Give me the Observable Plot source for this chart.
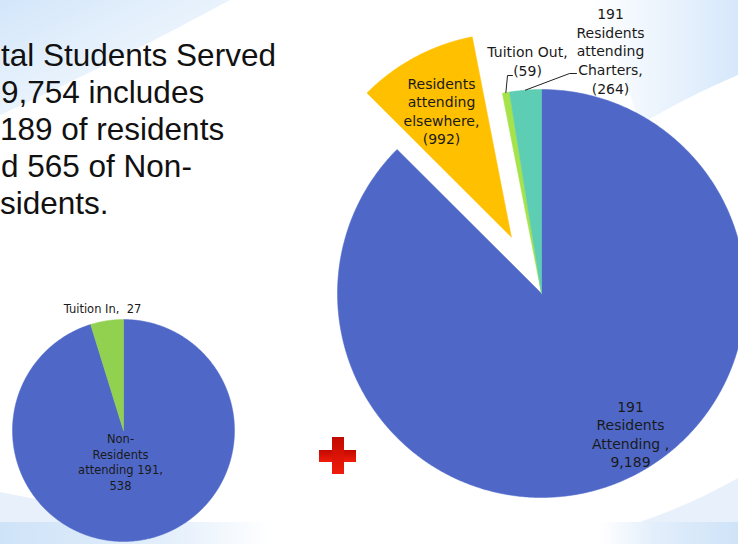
<!DOCTYPE html>
<html>
<head>
<meta charset="utf-8">
<script src="https://cdn.jsdelivr.net/npm/d3@7"></script>
<script src="https://cdn.jsdelivr.net/npm/@observablehq/plot@0.6"></script>
<style>
  html, body { margin: 0; padding: 0; background: #fff; }
  #wrap { position: relative; width: 738px; height: 544px; overflow: hidden; background: #fff; }
  #bg, #chart { position: absolute; left: 0; top: 0; }
  .line { position: absolute; font-family: "Liberation Sans", Arial, sans-serif; font-size: 31.5px; color: #111; white-space: nowrap; line-height: 37px; }
  .plus-h, .plus-v { position: absolute; background: linear-gradient(#c20a00, #f01c0c); }
</style>
</head>
<body>
<div id="wrap">
  <svg id="bg" width="738" height="544" xmlns="http://www.w3.org/2000/svg">
    <defs>
      <linearGradient id="gTL" x1="0" y1="0" x2="1" y2="1">
        <stop offset="0" stop-color="#d3e6fa"/>
        <stop offset="1" stop-color="#ffffff"/>
      </linearGradient>
      <linearGradient id="gTR" x1="0" y1="0" x2="1" y2="0">
        <stop offset="0" stop-color="#ffffff"/>
        <stop offset="1" stop-color="#d6e8fb"/>
      </linearGradient>
      <linearGradient id="gBL" x1="0" y1="0" x2="1" y2="0">
        <stop offset="0" stop-color="#cfe3f8"/>
        <stop offset="0.6" stop-color="#e2eefb"/>
        <stop offset="1" stop-color="#ffffff"/>
      </linearGradient>
      <linearGradient id="gBR" x1="0" y1="0" x2="1" y2="0">
        <stop offset="0" stop-color="#ffffff"/>
        <stop offset="0.4" stop-color="#e2eefb"/>
        <stop offset="1" stop-color="#cfe3f8"/>
      </linearGradient>
    </defs>
    <path d="M0,0 L230,0 Q120,60 0,115 Z" fill="url(#gTL)"/>
    <path d="M590,0 L738,0 L738,75 Q680,100 640,125 Q620,60 590,0 Z" fill="url(#gTR)"/>
    <path d="M0,492 Q70,505 135,522 L0,522 Z" fill="#e6f0fb" opacity="0.9"/>
    <path d="M0,522 L270,522 L270,544 L0,544 Z" fill="url(#gBL)"/>
    <path d="M738,478 Q690,505 640,522 L738,522 Z" fill="#e6f0fb" opacity="0.9"/>
    <path d="M600,522 L738,522 L738,544 L600,544 Z" fill="url(#gBR)"/>
  </svg>
  <div id="chart"></div>
  <div class="line" style="top:37px;left:1px;">tal Students Served</div>
  <div class="line" style="top:74px;left:1px;">9,754 includes</div>
  <div class="line" style="top:111px;left:0px;">189 of residents</div>
  <div class="line" style="top:148px;left:1px;">d 565 of Non-</div>
  <div class="line" style="top:185px;left:0px;">sidents.</div>
  <div class="plus-h" style="left:319px;top:450px;width:37px;height:12px;"></div>
  <div class="plus-v" style="left:332px;top:437px;width:12px;height:37px;"></div>
</div>
<script>
// ---- data ----
const bigCategories = ["191 Residents Attending", "Residents attending elsewhere", "Tuition Out", "191 Residents attending Charters"];
const bigValues = [9189, 992, 59, 264];
const bigLabels = ["191\nResidents\nAttending ,\n9,189", "Residents\nattending\nelsewhere,\n(992)", "Tuition Out,\n(59)", "191\nResidents\nattending\nCharters,\n(264)"];

const smallCategories = ["Non-Residents attending 191", "Tuition In"];
const smallValues = [538, 27];
const smallLabels = ["Non-\nResidents\nattending 191,\n538", "Tuition In,\u00a0 27"];

// ---- layout & style ----
const W = 738, H = 544;
const bigColors = ["#4f68c8", "#ffc000", "#a6e24a", "#5dcdb3"];
const smallColors = ["#4f68c8", "#92d050"];
const bigPie = {cx: 541, cy: 293, r: 204, explode: [0, 64, 0, 0]};
const smallPie = {cx: 123, cy: 430, r: 111, explode: [0, 0]};
const bigLabelPos = [[630, 433], [441, 110], [527, 60], [610, 50]];
const smallLabelPos = [[120, 461], [102, 307]];
const bigLeaderElbow = [null, null, [[507, 75], [512, 75]], [[569, 73], [576, 73]]];

function slicePolys(values, cats, colors, pie) {
  const arcs = d3.pie().sort(null).value(d => d)(values);
  const pts = [];
  const mids = [];
  arcs.forEach((a, i) => {
    const mid = (a.startAngle + a.endAngle) / 2;
    const ox = pie.cx + pie.explode[i] * Math.sin(mid);
    const oy = pie.cy - pie.explode[i] * Math.cos(mid);
    mids.push({i, mid, ox, oy});
    const key = cats[i];
    pts.push({slice: key, color: colors[i], x: ox, y: oy});
    const n = Math.max(2, Math.ceil((a.endAngle - a.startAngle) / (Math.PI / 360)));
    for (let k = 0; k <= n; k++) {
      const t = a.startAngle + (a.endAngle - a.startAngle) * k / n;
      pts.push({slice: key, color: colors[i], x: ox + pie.r * Math.sin(t), y: oy - pie.r * Math.cos(t)});
    }
    pts.push({slice: key, color: colors[i], x: ox, y: oy});
  });
  return {pts, mids};
}

const big = slicePolys(bigValues, bigCategories, bigColors, bigPie);
const small = slicePolys(smallValues, smallCategories, smallColors, smallPie);

const bigText = bigLabels.map((t, i) => ({text: t, x: bigLabelPos[i][0], y: bigLabelPos[i][1]}));
const smallText = smallLabels.map((t, i) => ({text: t, x: smallLabelPos[i][0], y: smallLabelPos[i][1]}));

const leaders = [];
big.mids.forEach(m => {
  const e = bigLeaderElbow[m.i];
  if (!e) return;
  const sx = m.ox + bigPie.r * Math.sin(m.mid), sy = m.oy - bigPie.r * Math.cos(m.mid);
  leaders.push({id: m.i, x: sx, y: sy});
  e.forEach(p => leaders.push({id: m.i, x: p[0], y: p[1]}));
});

const chart = Plot.plot({
  width: W, height: H,
  margin: 0,
  style: {background: "transparent", overflow: "visible"},
  x: {domain: [0, W], range: [0, W], axis: null},
  y: {domain: [0, H], range: [0, H], axis: null},
  color: {type: "identity"},
  marks: [
    Plot.line(small.pts, {x: "x", y: "y", z: "slice", fill: "color", stroke: "color", strokeWidth: 0.5, curve: "linear"}),
    Plot.line(big.pts, {x: "x", y: "y", z: "slice", fill: "color", stroke: "color", strokeWidth: 0.5, curve: "linear"}),
    Plot.line(leaders, {x: "x", y: "y", z: "id", stroke: "#222", strokeWidth: 1, curve: "linear"}),
    Plot.text(bigText, {x: "x", y: "y", text: "text", fontSize: 14, lineHeight: 1.33, fill: "#1a1a1a", fontFamily: "DejaVu Sans"}),
    Plot.text(smallText, {x: "x", y: "y", text: "text", fontSize: 11.5, lineHeight: 1.37, fill: "#1a1a1a", fontFamily: "DejaVu Sans"})
  ]
});
document.getElementById("chart").appendChild(chart);
</script>
</body>
</html>
